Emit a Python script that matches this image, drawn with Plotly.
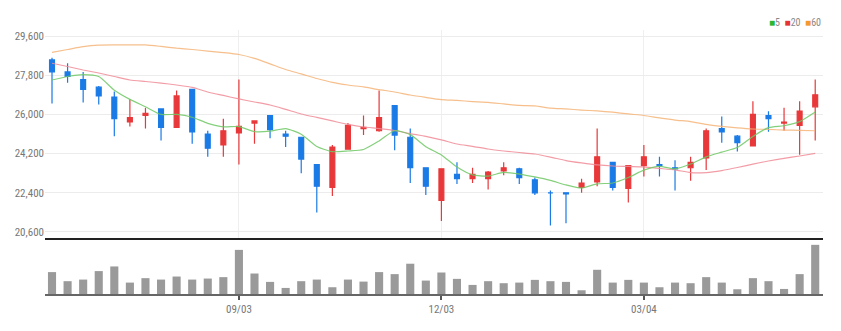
import plotly.graph_objects as go
import pandas as pd

W, H = 841, 331

dates = [d.strftime("%m/%d") for d in pd.date_range("2018-06-11", periods=50, freq="7D")]
tick_labels = ["09/03", "12/03", "03/04"]
price_ticks = [20600, 22400, 24200, 26000, 27800, 29600]

opens = [28500, 27950, 27600, 27250, 26800, 25650, 25950, 26250, 25400, 27150,
         25100, 24600, 25150, 25600, 25950, 25100, 24950, 23700, 22650, 24400,
         25350, 25250, 26400, 24950, 23550, 22050, 23250, 23050, 23050, 23400,
         23500, 23000, 22400, 22400, 22650, 22900, 23800, 22600, 23650, 23700,
         23550, 23550, 24000, 25350, 25000, 24550, 25950, 25600, 25500, 26350]
highs = [28600, 28350, 27950, 27300, 27050, 26700, 26300, 26250, 27100, 27150,
         25250, 25800, 27600, 25700, 25950, 25250, 24950, 23700, 24600, 25600,
         25950, 27100, 26400, 25350, 23550, 23500, 23800, 23550, 23400, 23800,
         23550, 23100, 22500, 22400, 23050, 25350, 23800, 23650, 24600, 24050,
         23900, 24050, 25350, 25900, 25050, 26600, 26150, 26300, 26600, 27600]
lows = [26500, 27450, 26550, 26450, 25000, 25450, 25350, 24800, 25400, 24650,
        24050, 24050, 23700, 24650, 24900, 24500, 23300, 21500, 22250, 24400,
        25050, 25200, 24350, 22850, 22300, 21100, 22800, 22850, 22550, 23200,
        22800, 22300, 20900, 21000, 22400, 22700, 22500, 21950, 23150, 23150,
        22500, 22950, 23450, 24700, 24300, 24550, 25200, 25250, 24150, 24800]
closes = [27950, 27750, 27150, 26850, 25800, 25850, 26050, 25400, 26850, 25200,
          24450, 25250, 25450, 25700, 25300, 25000, 23950, 22700, 24500, 25500,
          25400, 25850, 25050, 23550, 22700, 23500, 23050, 23250, 23350, 23550,
          23100, 22400, 22400, 22350, 22850, 24050, 22650, 23650, 24050, 23650,
          23500, 23800, 25250, 25200, 24700, 26000, 25800, 25650, 26150, 26900]

ma5 = [27580, 27740, 27830, 27740, 27110, 26690, 26350, 26000, 26000, 25870,
       25590, 25430, 25440, 25210, 25230, 25350, 25090, 24530, 24290, 24320,
       24390, 24780, 25250, 25070, 24520, 24140, 23580, 23220, 23170, 23340,
       23260, 23130, 22970, 22760, 22620, 22810, 22850, 23100, 23440, 23610,
       23500, 23720, 24050, 24270, 24480, 24990, 25390, 25480, 25670, 26110]
ma20 = [28350, 28200, 28040, 27900, 27740, 27580, 27510, 27440, 27350, 27240,
        27030, 26870, 26710, 26570, 26430, 26230, 26020, 25860, 25700, 25540,
        25420, 25350, 25260, 25120, 24990, 24830, 24640, 24530, 24410, 24320,
        24250, 24180, 24040, 23880, 23770, 23680, 23630, 23610, 23590, 23520,
        23450, 23330, 23330, 23420, 23560, 23720, 23860, 23980, 24090, 24210]
ma60 = [28850, 28980, 29110, 29180, 29190, 29190, 29190, 29120, 29040, 28980,
        28910, 28840, 28750, 28570, 28320, 28060, 27860, 27650, 27470, 27350,
        27260, 27140, 27030, 26890, 26780, 26680, 26640, 26590, 26550, 26480,
        26410, 26390, 26290, 26250, 26200, 26160, 26100, 26020, 25950, 25840,
        25740, 25670, 25540, 25450, 25380, 25330, 25310, 25280, 25270, 25250]
volume = [217, 127, 143, 227, 273, 113, 157, 143, 173, 143,
          153, 167, 437, 203, 120, 60, 127, 143, 67, 143,
          123, 217, 197, 300, 133, 213, 150, 90, 127, 107,
          113, 140, 127, 120, 37, 240, 113, 140, 113, 67,
          113, 107, 167, 113, 47, 157, 127, 50, 197, 487]

RED = "#e8383a"
BLUE = "#1a7ae6"
FONT = "Liberation Sans Narrow, Roboto Condensed, Arial Narrow, Roboto, sans-serif"

def py(pix):  # pixel from top -> paper fraction
    return (H - pix) / H

x0, x1 = 45 / W, 823 / W

fig = go.Figure()
fig.add_trace(go.Candlestick(
    x=dates, open=opens, high=highs, low=lows, close=closes,
    increasing=dict(line=dict(color=RED, width=1.2), fillcolor=RED),
    decreasing=dict(line=dict(color=BLUE, width=1.2), fillcolor=BLUE),
    whiskerwidth=0, xaxis="x", yaxis="y", showlegend=False, hoverinfo="skip"))
fig.add_trace(go.Scatter(x=dates, y=ma60, mode="lines",
                         line=dict(color="rgba(245,180,120,0.85)", width=1.2, shape="spline", smoothing=0.6),
                         xaxis="x", yaxis="y", showlegend=False, hoverinfo="skip"))
fig.add_trace(go.Scatter(x=dates, y=ma20, mode="lines",
                         line=dict(color="rgba(240,140,150,0.85)", width=1.2, shape="spline", smoothing=0.6),
                         xaxis="x", yaxis="y", showlegend=False, hoverinfo="skip"))
fig.add_trace(go.Scatter(x=dates, y=ma5, mode="lines",
                         line=dict(color="rgba(110,200,100,0.85)", width=1.2, shape="spline", smoothing=0.6),
                         xaxis="x", yaxis="y", showlegend=False, hoverinfo="skip"))
fig.add_trace(go.Bar(x=dates, y=volume, marker=dict(color="#9a9a9a", line=dict(width=0)),
                     xaxis="x2", yaxis="y2", showlegend=False, hoverinfo="skip"))

fig.update_layout(
    template="none",
    width=W, height=H, autosize=False,
    margin=dict(l=0, r=0, t=0, b=0),
    paper_bgcolor="white", plot_bgcolor="white",
    boxgap=0.55, bargap=0.48,
    font=dict(family=FONT, size=11, color="#777"),
    xaxis=dict(domain=[x0, x1], anchor="y", type="category", categoryorder="array", categoryarray=dates,
               range=[-0.45, 49.5], tickvals=tick_labels, showticklabels=False, ticks="",
               showgrid=True, gridcolor="#efefef", gridwidth=1, zeroline=False,
               showline=True, linecolor="#222", linewidth=1.5, rangeslider=dict(visible=False),
               automargin=False),
    yaxis=dict(domain=[py(238), py(30)], range=[20324, 29876], tickvals=price_ticks, tickformat=",d",
               showgrid=True, gridcolor="#ececec", gridwidth=1, zeroline=False, ticks="",
               tickfont=dict(size=11, color="#777"), automargin=False, showline=False),
    xaxis2=dict(domain=[x0, x1], anchor="y2", type="category", categoryorder="array", categoryarray=dates,
                range=[-0.45, 49.5], tickvals=tick_labels, ticks="outside", ticklen=4, tickcolor="#555",
                tickwidth=1.5, showgrid=False, zeroline=False, showline=True, linecolor="#666", linewidth=2,
                tickfont=dict(size=11, color="#777"), automargin=False, matches="x"),
    yaxis2=dict(domain=[py(294), py(240)], range=[0, 535], showgrid=False, zeroline=False,
                showticklabels=False, ticks="", automargin=False),
    annotations=[dict(
        xref="paper", yref="paper", x=823 / W, y=py(22), xanchor="right", yanchor="middle",
        showarrow=False, font=dict(size=10, color="#888", family=FONT),
        text='<span style="color:#2db52d">■</span>5  <span style="color:#e83232">■</span>20  '
             '<span style="color:#f29a2e">■</span>60')],
)

fig.write_html("out.html")
